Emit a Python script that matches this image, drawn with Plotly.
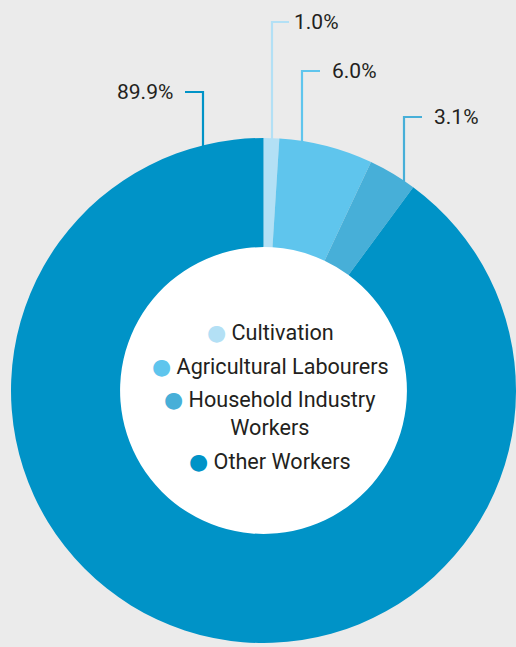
import math
import plotly.graph_objects as go

# ---- data ----
categories = ["Cultivation", "Agricultural Labourers", "Household Industry Workers", "Other Workers"]
legend_text = ["Cultivation", "Agricultural Labourers", "Household Industry<br>Workers", "Other Workers"]
values = [1.0, 6.0, 3.1, 89.9]
colors = ["#b3e0f5", "#5fc5ed", "#47afd8", "#0093c7"]

# ---- layout geometry (pixels) ----
W, H = 516, 647
ML, MR, MT, MB = 11, 0, 138, 4
PW, PH = W - ML - MR, H - MT - MB
R = min(PW, PH) / 2
CX, CY = ML + PW / 2, MT + PH / 2
HOLE = 0.568

# leader line layout per slice: x of vertical line, y of label row, side
leader_x = [272, 302, 404, 203]
label_y = [22, 71, 117, 92]
side = [1, 1, 1, -1]
stub = [17, 18, 18, 18]
gap = [3, 10, 10, 10]

BG = "#ebebeb"
TXT = "#231f20"
FONT = "Roboto, DejaVu Sans, sans-serif"


def px_x(x):
    return (x - ML) / PW


def px_y(y):
    return (H - MB - y) / PH


fig = go.Figure(
    go.Pie(
        labels=categories,
        values=values,
        hole=HOLE,
        sort=False,
        direction="clockwise",
        rotation=0,
        textinfo="none",
        marker=dict(colors=colors, line=dict(width=0)),
        showlegend=False,
        hovertemplate="%{label}: %{value:.1f}%<extra></extra>",
    )
)

r_in = R * HOLE + 1
shapes = [dict(type="circle", xref="paper", yref="paper", layer="below",
               x0=px_x(CX - r_in), x1=px_x(CX + r_in),
               y0=px_y(CY + r_in), y1=px_y(CY - r_in),
               fillcolor="white", line=dict(width=0))]
annotations = []
for i, v in enumerate(values):
    lx = leader_x[i]
    ring_y = CY - math.sqrt(max(R * R - (lx - CX) ** 2, 0))
    ly = label_y[i]
    ex = lx + side[i] * stub[i]
    path = f"M {px_x(lx)} {px_y(ring_y + 1)} L {px_x(lx)} {px_y(ly)} L {px_x(ex)} {px_y(ly)}"
    shapes.append(dict(type="path", xref="paper", yref="paper", path=path,
                       line=dict(color=colors[i], width=2.2)))
    tx = ex + side[i] * gap[i]
    annotations.append(dict(
        x=px_x(tx), y=px_y(ly), xref="paper", yref="paper",
        text=f"{v:.1f}%", showarrow=False,
        xanchor="left" if side[i] > 0 else "right", yanchor="middle",
        font=dict(family=FONT, size=21, color=TXT),
    ))

# central legend
legend_y = [332.5, 366, 413.5, 461]
for i, name in enumerate(legend_text):
    annotations.append(dict(
        x=px_x(270), y=px_y(legend_y[i]), xref="paper", yref="paper",
        text=f"<span style='color:{colors[i]};font-size:22px'>●</span> {name}",
        showarrow=False, xanchor="center", yanchor="middle", align="center",
        font=dict(family=FONT, size=21.6, color=TXT),
    ))

fig.update_layout(
    width=W, height=H,
    margin=dict(l=ML, r=MR, t=MT, b=MB, pad=0),
    paper_bgcolor=BG, plot_bgcolor=BG,
    shapes=shapes, annotations=annotations,
)

fig.write_html("out.html", config={"displayModeBar": False},
               post_script="document.body.style.margin='0';")
